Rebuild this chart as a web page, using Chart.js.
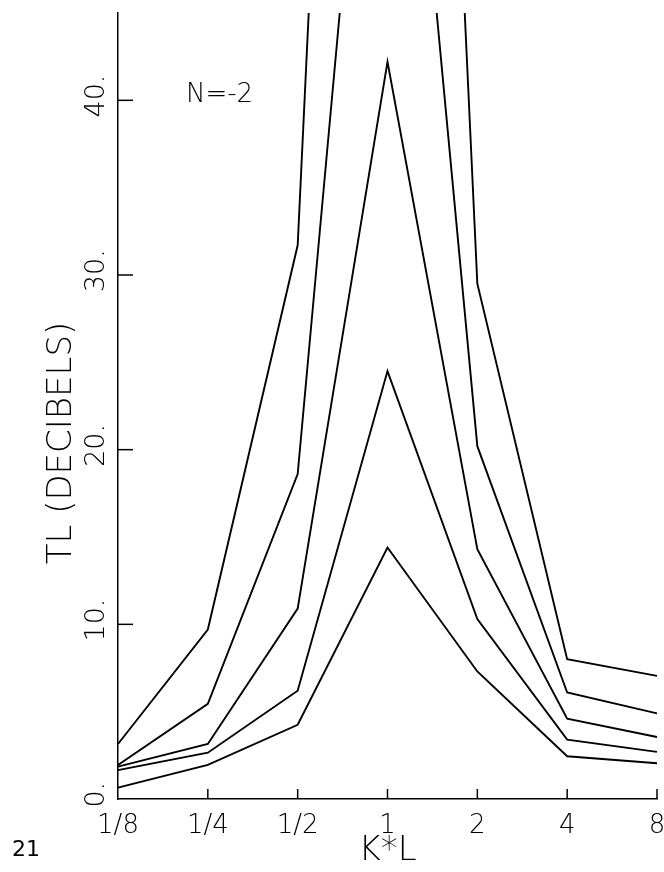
<!DOCTYPE html>
<html>
<head>
<meta charset="utf-8">
<script src="https://cdn.jsdelivr.net/npm/chart.js@4/dist/chart.umd.min.js"></script>
<style>
  html, body { margin: 0; padding: 0; background: #fff; }
  #wrap { position: relative; width: 664px; height: 872px; }
  #page { position: absolute; left: 12px; top: 836px; font: 22px "DejaVu Sans", sans-serif; color: #000; }
</style>
</head>
<body>
<div id="wrap">
  <canvas id="c" width="664" height="872"></canvas>
  <div id="page">21</div>
</div>
<script>
// ---- data ----
const categories = ['1/8', '1/4', '1/2', '1', '2', '4', '8'];
const series1 = [0.65, 1.95, 4.25, 14.4, 7.3, 2.45, 2.05];
const series2 = [1.65, 2.65, 6.2, 24.5, 10.3, 3.4, 2.7];
const series3 = [1.85, 3.15, 10.9, 42.2, 14.3, 4.6, 3.55];
const series4 = [1.95, 5.45, 18.6, 75, 20.2, 6.1, 4.9];
const series5 = [3.15, 9.7, 31.7, 140, 29.5, 8.0, 7.05];
const yTickValues = [0, 10, 20, 30, 40];
const yTitle = 'TL (DECIBELS)';
const xTitle = 'K*L';
const annotation = 'N=-2';

const thinFont = '"DejaVu Sans", sans-serif';

function ds(data) {
  return { data, borderColor: '#000', borderWidth: 1.9, pointRadius: 0, fill: false, tension: 0 };
}

const customAxes = {
  id: 'customAxes',
  afterDraw(chart) {
    const ctx = chart.ctx;
    const xs = chart.scales.x, ys = chart.scales.y;
    const area = chart.chartArea;
    ctx.save();
    ctx.strokeStyle = '#000';
    ctx.fillStyle = '#000';
    ctx.lineWidth = 1.5;
    // inward y ticks
    yTickValues.forEach(v => {
      const py = ys.getPixelForValue(v);
      if (v === 0) return;
      ctx.beginPath(); ctx.moveTo(area.left, py); ctx.lineTo(area.left + 15, py); ctx.stroke();
    });
    // inward x ticks
    categories.forEach((c, i) => {
      if (i === 0) return;
      const px = xs.getPixelForValue(i);
      ctx.beginPath(); ctx.moveTo(px, area.bottom); ctx.lineTo(px, area.bottom - 10); ctx.stroke();
    });
    // rotated y tick labels
    ctx.font = '200 27px ' + thinFont;
    yTickValues.forEach(v => {
      const py = ys.getPixelForValue(v);
      const digits = String(v);
      const w = ctx.measureText(digits).width;
      ctx.save();
      ctx.translate(97, py + w / 2);
      ctx.rotate(-Math.PI / 2);
      ctx.textAlign = 'left';
      ctx.textBaseline = 'middle';
      ctx.fillText(digits + '.', 0, 0);
      ctx.restore();
    });
    // y title
    ctx.font = '200 34px ' + thinFont;
    ctx.save();
    ctx.translate(62, 443);
    ctx.rotate(-Math.PI / 2);
    ctx.textAlign = 'center';
    ctx.textBaseline = 'middle';
    ctx.fillText(yTitle, 0, 0);
    ctx.restore();
    // annotation
    ctx.font = '200 26px ' + thinFont;
    ctx.textAlign = 'left';
    ctx.textBaseline = 'alphabetic';
    ctx.fillText(annotation, 186, 102);
    ctx.restore();
  }
};

new Chart(document.getElementById('c'), {
  type: 'line',
  data: {
    labels: categories,
    datasets: [ds(series1), ds(series2), ds(series3), ds(series4), ds(series5)]
  },
  options: {
    responsive: false,
    devicePixelRatio: 1,
    animation: false,
    events: [],
    layout: { padding: { left: 0, right: 7, top: 13, bottom: 0 } },
    plugins: { legend: { display: false }, tooltip: { enabled: false } },
    scales: {
      x: {
        type: 'category',
        offset: false,
        grid: { display: false, drawTicks: false },
        border: { display: true, color: '#000', width: 1.5 },
        ticks: { color: '#000', font: { family: thinFont, size: 26, weight: '200' }, padding: 12, maxRotation: 0, autoSkip: false },
        title: { display: true, text: xTitle, color: '#000', font: { family: thinFont, size: 34, weight: '200' }, padding: 0 },
        afterFit(scale) { scale.height = 73; scale.paddingLeft = 0; scale.paddingRight = 0; }
      },
      y: {
        min: 0, max: 45,
        grid: { display: false, drawTicks: false },
        border: { display: true, color: '#000', width: 1.5 },
        ticks: { display: false },
        afterFit(scale) { scale.width = 118; scale.paddingTop = 0; scale.paddingBottom = 0; }
      }
    }
  },
  plugins: [customAxes]
});
</script>
</body>
</html>
